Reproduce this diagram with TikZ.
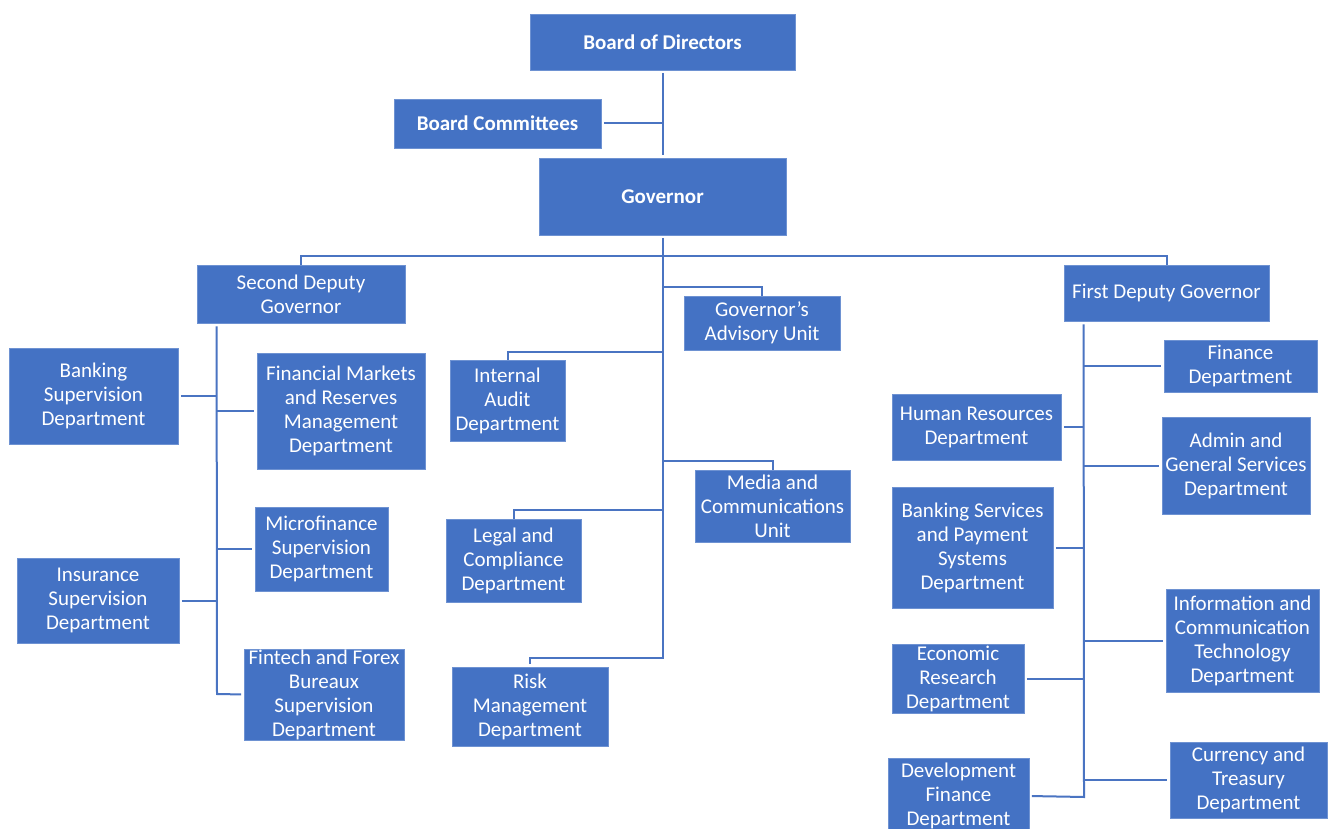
\documentclass[tikz,border=0pt]{standalone}
\usepackage{fontspec}
\setmainfont{Carlito}
\definecolor{boxblue}{HTML}{4472C4}
\definecolor{edgeblue}{HTML}{6E92D2}
\definecolor{lineblue}{HTML}{4A74C2}
\begin{document}
\begin{tikzpicture}[x=1pt,y=-1pt,
  box/.style={rectangle, fill=boxblue, draw=edgeblue, line width=0.8pt, text=white,
    inner sep=0pt, align=center, font=\fontsize{21}{24}\selectfont},
  bbox/.style={box, font=\fontsize{21}{24}\selectfont\bfseries},
  conn/.style={draw=lineblue, line width=2pt},
  gapend/.style={shorten >=2.5pt},
  gapstart/.style={shorten <=2.5pt}]
\useasboundingbox (0,0) rectangle (1328,829);
\clip (0,0) rectangle (1328,829);
\fill[white] (0,0) rectangle (1328,829);

% top
\node[bbox, minimum width=265pt, minimum height=56pt] (bod) at (662.5,42) {Board of Directors};
\node[bbox, minimum width=207pt, minimum height=49pt] (bc) at (497.5,123.5) {Board Committees};
\node[bbox, minimum width=247pt, minimum height=77pt] (gov) at (662.5,196.5) {Governor};
\node[box, minimum width=208pt, minimum height=58pt] (sdg) at (301,294) {Second Deputy\\Governor};
\node[box, minimum width=205pt, minimum height=56pt] (fdg) at (1166.5,293) {First Deputy Governor};

% centre
\node[box, minimum width=156pt, minimum height=54pt] (gau) at (762,323) {Governor\symbol{39}s\\Advisory Unit};
\node[box, minimum width=115pt, minimum height=81pt] (iad) at (507.5,400.5) {Internal\\Audit\\Department};
\node[box, minimum width=155pt, minimum height=72pt] (mcu) at (772.5,506) {Media and\\Communications\\Unit};
\node[box, minimum width=135pt, minimum height=83pt] (lcd) at (513.5,560.5) {Legal and\\Compliance\\Department};
\node[box, minimum width=156pt, minimum height=79pt] (rmd) at (530,706.5) {Risk\\Management\\Department};

% left
\node[box, minimum width=169pt, minimum height=96pt] (bsd) at (93.5,396) {Banking\\Supervision\\Department};
\node[box, minimum width=168pt, minimum height=116pt] (fmr) at (341,411) {Financial Markets\\and Reserves\\Management\\Department};
\node[box, minimum width=133pt, minimum height=84pt] (msd) at (321.5,549) {Microfinance\\Supervision\\Department};
\node[box, minimum width=162pt, minimum height=85pt] (isd) at (98,600.5) {Insurance\\Supervision\\Department};
\node[box, minimum width=160pt, minimum height=91pt] (ffb) at (324,694.5) {Fintech and Forex\\Bureaux\\Supervision\\Department};

% right
\node[box, minimum width=153pt, minimum height=52pt] (fin) at (1240.5,366) {Finance\\Department};
\node[box, minimum width=169pt, minimum height=66pt] (hrd) at (976.5,427) {Human Resources\\Department};
\node[box, minimum width=148pt, minimum height=97pt] (agd) at (1236,465.5) {Admin and\\General Services\\Department};
\node[box, minimum width=161pt, minimum height=121pt] (bsp) at (972.5,547.5) {Banking Services\\and Payment\\Systems\\Department};
\node[box, minimum width=153pt, minimum height=103pt] (ict) at (1242.5,640.5) {Information and\\Communication\\Technology\\Department};
\node[box, minimum width=132pt, minimum height=69pt] (erd) at (958,678.5) {Economic\\Research\\Department};
\node[box, minimum width=157pt, minimum height=76pt] (ctd) at (1248.5,780) {Currency and\\Treasury\\Department};
\node[box, minimum width=141pt, minimum height=76pt] (dfd) at (958.5,796) {Development\\Finance\\Department};

% junction coordinates
\coordinate (gbot) at (662.5,658);
\coordinate (hub) at (662.5,256);
\coordinate (jgau) at (662.5,287);
\coordinate (jiad) at (662.5,352);
\coordinate (jmcu) at (662.5,461);
\coordinate (jlcd) at (662.5,510);
\coordinate (st) at ([xshift=20pt,yshift=-3pt]sdg.south west);
\coordinate (sb) at (217,694);
\coordinate (ft) at ([xshift=20pt,yshift=-3pt]fdg.south west);
\coordinate (fb) at (1084,797);

% connectors top
\draw[conn, gapstart, gapend] (bod.south) -- (gov.north);
\draw[conn, gapstart] (bc.east) -- (bc.east -| gov.north);
\draw[conn] (sdg.north) |- (hub) -| (fdg.north);
\draw[conn] (jgau) -| (gau.north);
\draw[conn] (jiad) -| (iad.north);
\draw[conn] (jmcu) -| (mcu.north);
\draw[conn] (jlcd) -| (lcd.north);
\draw[conn, gapstart, gapend] (gov.south) -- (gbot) -| (rmd.north);

% second deputy branch
\draw[conn, gapstart] (bsd.east) -- (bsd.east -| st);
\draw[conn, gapend] (fmr.west -| st) -- (fmr.west);
\draw[conn, gapend] (msd.west -| st) -- (msd.west);
\draw[conn, gapstart] (isd.east) -- (isd.east -| st);
\draw[conn, gapend] (st) -- (sb) -- (ffb.west);

% first deputy branch
\draw[conn, gapend] (fin.west -| ft) -- (fin.west);
\draw[conn, gapstart] (hrd.east) -- (hrd.east -| ft);
\draw[conn, gapend] (agd.west -| ft) -- (agd.west);
\draw[conn, gapstart] (bsp.east) -- (bsp.east -| ft);
\draw[conn, gapend] (ict.west -| ft) -- (ict.west);
\draw[conn, gapstart] (erd.east) -- (erd.east -| ft);
\draw[conn, gapend] (ctd.west -| ft) -- (ctd.west);
\draw[conn, gapend] (ft) -- (fb) -- (dfd.east);
\end{tikzpicture}
\end{document}
